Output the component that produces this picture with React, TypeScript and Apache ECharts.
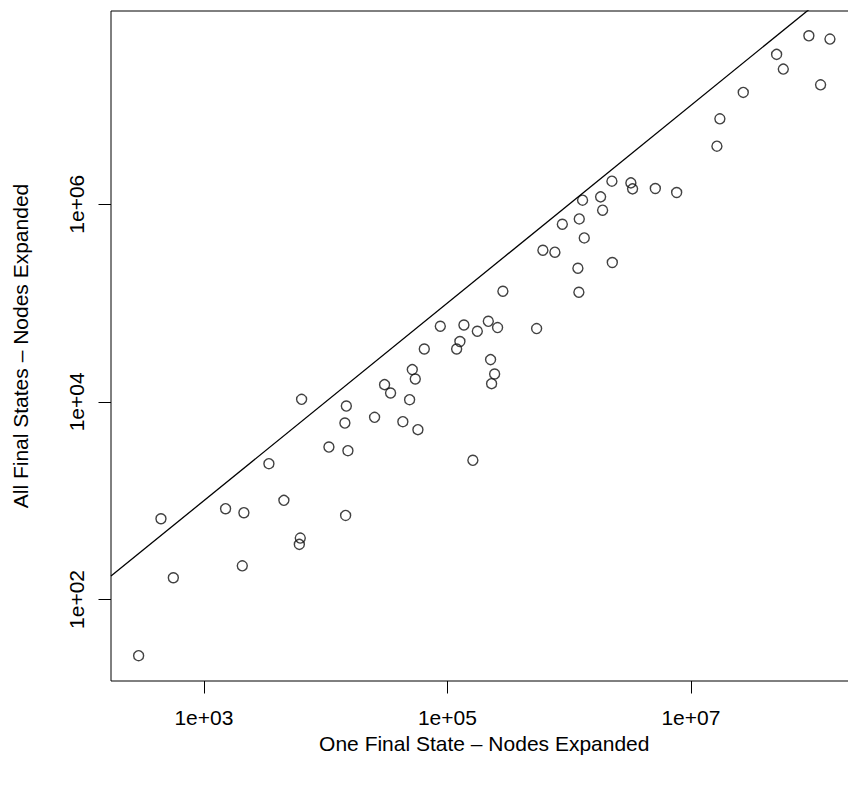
import React, { useEffect, useRef } from "react";
import * as echarts from "echarts";

// Nodes expanded: one final state (x) vs all final states (y)
const oneFinalState: number[] = [
  291, 444, 561, 1507, 2131, 2067, 3420, 4540, 6190, 6080,
  6345, 10640, 14790, 14390, 15240, 14590, 25230, 30480, 34140, 43060,
  48940, 51480, 54470, 57260, 64600, 87450, 119100, 126700, 136700, 161900,
  176100, 216800, 226300, 230700, 244300, 258300, 285600, 540500, 608600, 763800,
  879000, 1180000, 1202000, 1211000, 1289000, 1331000, 1813000, 1883000, 2245000, 2262000,
  3214000, 3319000, 5103000, 7638000, 16360000, 17300000, 26920000, 50580000, 57410000, 93110000,
  116200000, 138700000,
];
const allFinalStates: number[] = [
  27, 656, 166, 829, 755, 219, 2367, 1007, 418, 361,
  10600, 3486, 9065, 6100, 3206, 709, 6970, 14930, 12280, 6300,
  10520, 21190, 17020, 5230, 34260, 58180, 34260, 40740, 59950, 2560,
  51760, 65330, 26740, 15280, 19130, 56400, 131500, 55110, 342000, 326600,
  627100, 224900, 128500, 709800, 1098000, 455900, 1186000, 869300, 1710000, 256900,
  1643000, 1429000, 1442000, 1314000, 3865000, 7311000, 13530000, 32810000, 23280000, 50580000,
  16140000, 46880000,
];
// tick positions as log10 exponents
const xTickExponents: number[] = [3, 5, 7];
const yTickExponents: number[] = [2, 4, 6];
// axis extents (log10)
const xExtent: number[] = [2.237, 8.369];
const yExtent: number[] = [1.175, 7.955];

const FONT = "'Liberation Sans', Arial, Helvetica, sans-serif";

export default function App() {
  const ref = useRef<HTMLDivElement>(null);
  useEffect(() => {
    if (!ref.current) return;
    const chart = echarts.init(ref.current, undefined, { renderer: "svg" });
    const points = oneFinalState.map((x, i) => [Math.log10(x), Math.log10(allFinalStates[i])]);
    const fmt = (v: number) => "1e+" + String(Math.round(v)).padStart(2, "0");
    chart.setOption({
      animation: false,
      backgroundColor: "#ffffff",
      textStyle: { fontFamily: FONT },
      grid: {
        show: true,
        left: 111,
        top: 11,
        width: (xExtent[1] - xExtent[0]) * 121.75,
        height: 670,
        borderColor: "#000",
        borderWidth: 1,
        backgroundColor: "transparent",
        containLabel: false,
      },
      xAxis: {
        type: "value",
        min: xExtent[0],
        max: xExtent[1],
        splitLine: { show: false },
        axisLine: { show: false },
        axisTick: {
          show: true,
          customValues: xTickExponents,
          length: 12.5,
          lineStyle: { color: "#000", width: 1 },
        },
        axisLabel: {
          customValues: xTickExponents,
          formatter: fmt,
          color: "#000",
          fontSize: 21,
          fontFamily: FONT,
          margin: 26,
        },
        name: "One Final State – Nodes Expanded",
        nameLocation: "middle",
        nameGap: 52,
        nameTextStyle: { color: "#000", fontSize: 21, fontFamily: FONT },
      },
      yAxis: {
        type: "value",
        min: yExtent[0],
        max: yExtent[1],
        splitLine: { show: false },
        axisLine: { show: false },
        axisTick: {
          show: true,
          customValues: yTickExponents,
          length: 12.5,
          lineStyle: { color: "#000", width: 1 },
        },
        axisLabel: {
          customValues: yTickExponents,
          formatter: fmt,
          rotate: 90,
          color: "#000",
          fontSize: 21,
          fontFamily: FONT,
          margin: 24,
        },
        name: "All Final States – Nodes Expanded",
        nameLocation: "middle",
        nameGap: 80,
        nameTextStyle: { color: "#000", fontSize: 21, fontFamily: FONT },
      },
      series: [
        {
          type: "line",
          data: [
            [xExtent[0], xExtent[0]],
            [xExtent[1], xExtent[1]],
          ],
          showSymbol: false,
          symbol: "none",
          clip: true,
          lineStyle: { color: "#000", width: 1.3 },
          silent: true,
        },
        {
          type: "scatter",
          data: points,
          symbol: "circle",
          symbolSize: 10,
          itemStyle: { color: "transparent", borderColor: "#111", borderWidth: 1.4 },
        },
      ],
    });
    return () => chart.dispose();
  }, []);
  return (
    <div
      style={{
        position: "fixed",
        left: 0,
        top: 0,
        width: 848,
        height: 785,
        overflow: "hidden",
        background: "#fff",
      }}
    >
      <div ref={ref} style={{ width: 900, height: 785 }} />
    </div>
  );
}
